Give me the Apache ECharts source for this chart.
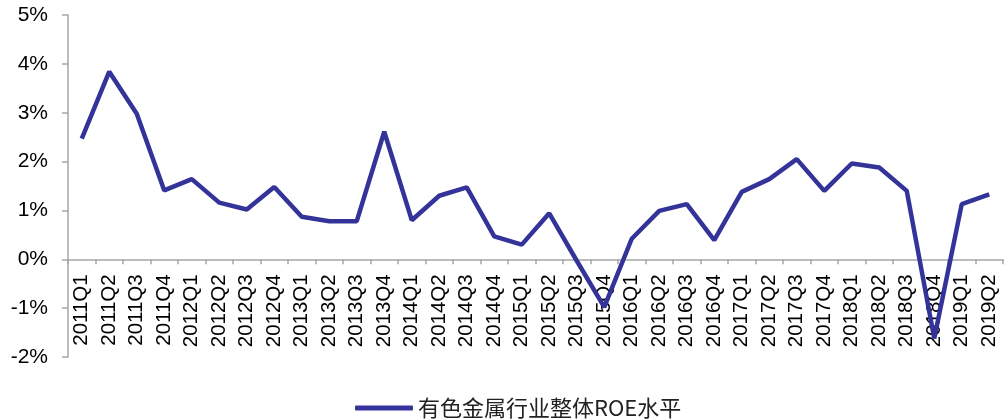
<!DOCTYPE html>
<html>
<head>
<meta charset="utf-8">
<script src="https://cdn.jsdelivr.net/npm/echarts@6/dist/echarts.min.js"></script>
<style>
  html, body { margin: 0; padding: 0; background: #fff; }
  #chart { width: 1008px; height: 419px; }
</style>
</head>
<body>
<div id="chart"></div>
<script>
// 季度
const quarters = [
  '2011Q1', '2011Q2', '2011Q3', '2011Q4',
  '2012Q1', '2012Q2', '2012Q3', '2012Q4',
  '2013Q1', '2013Q2', '2013Q3', '2013Q4',
  '2014Q1', '2014Q2', '2014Q3', '2014Q4',
  '2015Q1', '2015Q2', '2015Q3', '2015Q4',
  '2016Q1', '2016Q2', '2016Q3', '2016Q4',
  '2017Q1', '2017Q2', '2017Q3', '2017Q4',
  '2018Q1', '2018Q2', '2018Q3', '2018Q4',
  '2019Q1', '2019Q2'
]

// 有色金属行业整体ROE水平 (%)
const roeValues = [
  2.47, 3.84, 2.98, 1.41,
  1.64, 1.16, 1.02, 1.48,
  0.87, 0.78, 0.78, 2.61,
  0.80, 1.30, 1.47, 0.47,
  0.30, 0.94, -0.03, -0.98,
  0.42, 0.99, 1.13, 0.39,
  1.38, 1.64, 2.05, 1.40,
  1.96, 1.88, 1.40, -1.62,
  1.13, 1.33
]

const seriesName = '有色金属行业整体ROE水平'
const yMin = -2
const yMax = 5
const yStep = 1

const chart = echarts.init(document.getElementById('chart'))

const axisGray = '#a6a6a6'
const latinFont = '"Liberation Sans", Arial, sans-serif'

const gridTop = 15
const gridBottom = 62
const plotHeight = 419 - gridTop - gridBottom
// 把横轴（含标签）移到0%位置
const zeroOffset = -plotHeight * (0 - yMin) / (yMax - yMin)

const option = {
  backgroundColor: '#fff',
  animation: false,
  grid: {
    left: 68,
    right: 5,
    top: gridTop,
    bottom: gridBottom,
    containLabel: false,
    outerBoundsMode: 'none'
  },
  legend: {
    data: [seriesName],
    left: 350,
    top: 392,
    icon: 'roundRect',
    itemWidth: 58,
    itemHeight: 5,
    textStyle: {
      color: '#222',
      fontSize: 22,
      fontFamily: '"Noto Sans CJK SC", sans-serif'
    }
  },
  xAxis: {
    type: 'category',
    data: quarters,
    boundaryGap: true,
    offset: zeroOffset,
    axisLine: {
      onZero: false,
      lineStyle: { color: axisGray, width: 1.5 }
    },
    axisTick: {
      show: true,
      inside: false,
      length: 5,
      lineStyle: { color: axisGray, width: 1.5 }
    },
    axisLabel: {
      interval: 0,
      rotate: 90,
      margin: 15,
      color: '#000',
      fontSize: 20.5,
      fontFamily: latinFont
    },
    splitLine: { show: false }
  },
  yAxis: {
    type: 'value',
    min: yMin,
    max: yMax,
    interval: yStep,
    axisLine: {
      show: true,
      lineStyle: { color: axisGray, width: 1.5 }
    },
    axisTick: {
      show: true,
      inside: false,
      length: 6,
      lineStyle: { color: axisGray, width: 1.5 }
    },
    axisLabel: {
      formatter: '{value}%',
      margin: 20,
      color: '#000',
      fontSize: 21,
      fontFamily: latinFont
    },
    splitLine: { show: false }
  },
  series: [
    {
      name: seriesName,
      type: 'line',
      data: roeValues,
      symbol: 'none',
      color: '#333399',
      lineStyle: {
        color: '#333399',
        width: 4.5
      }
    }
  ]
}

chart.setOption(option)
</script>
</body>
</html>
